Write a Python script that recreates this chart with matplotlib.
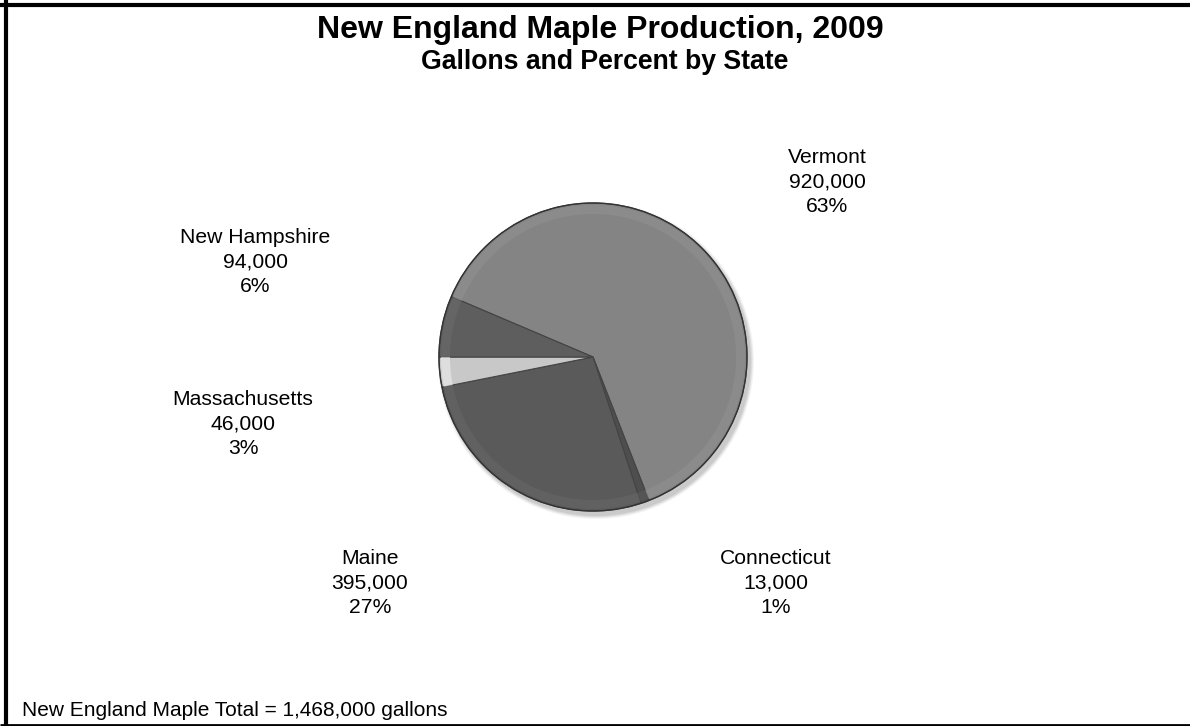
import matplotlib.pyplot as plt
import numpy as np
from matplotlib.patches import Circle

plt.rcParams['font.family'] = ['Liberation Sans', 'DejaVu Sans']

states = ['Vermont', 'Connecticut', 'Maine', 'Massachusetts', 'New Hampshire']
gallons = [920000, 13000, 395000, 46000, 94000]
colors = ['#848484', '#4e4e4e', '#5a5a5a', '#c8c8c8', '#5e5e5e']
rim_colors = ['#909090', '#5a5a5a', '#666666', '#eeeeee', '#6a6a6a']

title = 'New England Maple Production, 2009'
subtitle = 'Gallons and Percent by State'
total = sum(gallons)
footer = 'New England Maple Total = {:,} gallons'.format(total)

# label block centres, in pixels from the top-left corner
label_pos = {
    'Vermont': (827, 182),
    'Connecticut': (776, 583),
    'Maine': (370, 583),
    'Massachusetts': (243, 424),
    'New Hampshire': (255, 262),
}

W, H = 1190, 726
fig = plt.figure(figsize=(W / 100, H / 100), dpi=100)
ax = fig.add_axes([0, 0, 1, 1])

cx, cy, r = 593, H - 357, 154
start = 180 - 360 * gallons[-1] / total

# soft drop shadow toward the lower right
for k, a in enumerate([0.04, 0.05, 0.06, 0.07]):
    ax.add_patch(Circle((cx + 3, cy - 4), r + 4 - k, color='#000000', alpha=a, lw=0, zorder=1))

ax.pie(gallons, colors=colors, startangle=start, counterclock=False,
       center=(cx, cy), radius=r, frame=True,
       wedgeprops=dict(edgecolor='#444444', linewidth=0.8, zorder=2))
# bevelled rim
ax.pie(gallons, colors=rim_colors, startangle=start, counterclock=False,
       center=(cx, cy), radius=r - 2, frame=True,
       wedgeprops=dict(width=9, edgecolor='none', alpha=0.6, zorder=3))
ax.add_patch(Circle((cx, cy), r, fill=False, ec='#333333', lw=1.0, zorder=4))
ax.set_xlim(0, W)
ax.set_ylim(0, H)
ax.axis('off')

for name, val in zip(states, gallons):
    x, y = label_pos[name]
    txt = '{}\n{:,}\n{:.0f}%'.format(name, val, 100 * val / total)
    ax.text(x, H - y, txt, ha='center', va='center', fontsize=15.2,
            linespacing=1.34, color='#000000')

fig.text(600 / W, 1 - 30 / H, title, ha='center', va='center',
         fontsize=23, fontweight='bold')
fig.text(605 / W, 1 - 62 / H, subtitle, ha='center', va='center',
         fontsize=19.2, fontweight='bold')
fig.text(22 / W, 1 - 716 / H, footer, ha='left', va='baseline', fontsize=15)

# frame: top, left and bottom edges only
ax.plot([0, W], [H - 5, H - 5], color='black', lw=3, solid_capstyle='butt', zorder=10)
ax.plot([6, 6], [0, H], color='black', lw=3, solid_capstyle='butt', zorder=10)
ax.plot([0, W], [1.5, 1.5], color='black', lw=2, solid_capstyle='butt', zorder=10)

fig.savefig('out.png', dpi=100, facecolor='white')
